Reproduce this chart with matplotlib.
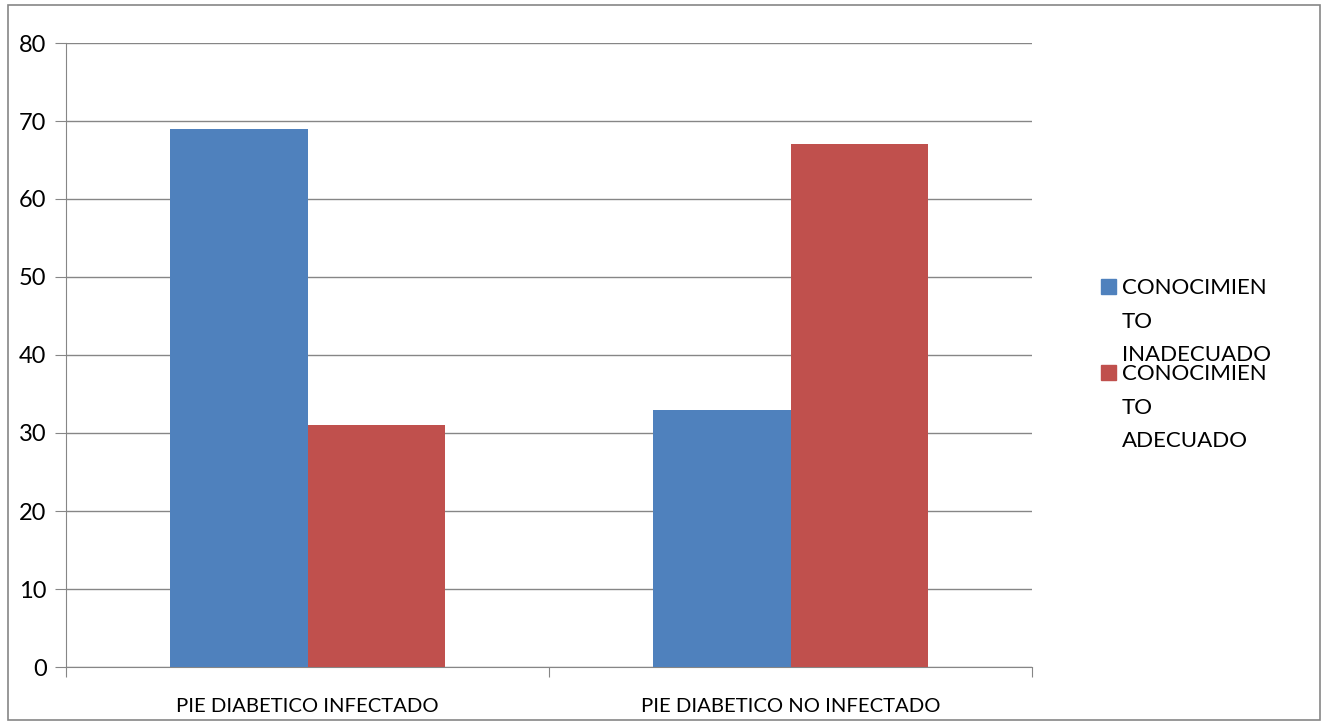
import matplotlib.pyplot as plt
from matplotlib.patches import Rectangle
import numpy as np

categories = ["PIE DIABETICO INFECTADO", "PIE DIABETICO NO INFECTADO"]
series_names = ["CONOCIMIEN\nTO\nINADECUADO", "CONOCIMIEN\nTO\nADECUADO"]
inadecuado = [69, 33]
adecuado = [31, 67]
colors = ["#4F81BD", "#C0504D"]

plt.rcParams['font.family'] = ['Lato', 'DejaVu Sans']

fig = plt.figure(figsize=(13.24, 7.22), dpi=100)
ax = fig.add_axes([66/1324, 1-667/722, (1032-66)/1324, (667-43)/722])

x = np.arange(len(categories))
w = 0.284
ax.bar(x - w/2, inadecuado, w, color=colors[0], zorder=3)
ax.bar(x + w/2, adecuado, w, color=colors[1], zorder=3)

ax.set_xlim(-0.5, 1.5)
ax.set_ylim(0, 80)
ax.set_yticks(range(0, 81, 10))
ax.yaxis.grid(True, color="#868686", linewidth=1, zorder=0)
ax.set_xticks([-0.5, 0.5, 1.5])
ax.set_xticklabels([])
ax.set_xticks(x, minor=True)
ax.set_xticklabels(categories, minor=True, fontsize=14.6)
ax.tick_params(axis='x', which='minor', length=0, pad=22)
ax.tick_params(axis='x', which='major', length=7, color="#868686", direction='out')
ax.tick_params(axis='y', length=8, color="#868686", labelsize=17, pad=6)
for s in ['top', 'right']:
    ax.spines[s].set_visible(False)
for s in ['left', 'bottom']:
    ax.spines[s].set_color("#868686")

# legend
for i, name in enumerate(series_names):
    y0 = 1 - (288 + i*86)/722
    fig.patches.append(Rectangle((1101/1324, y0 - 6/722), 15/1324, 15/722,
                                 transform=fig.transFigure, color=colors[i]))
    fig.text(1122/1324, y0 + 10/722, name, fontsize=16, va='top', ha='left',
             linespacing=1.85, transform=fig.transFigure)

fig.patches.append(Rectangle((8/1324, 2/722), 1312/1324, 715/722, transform=fig.transFigure,
                             fill=False, edgecolor="#868686", linewidth=1.2))

fig.savefig("out.png", dpi=100)
